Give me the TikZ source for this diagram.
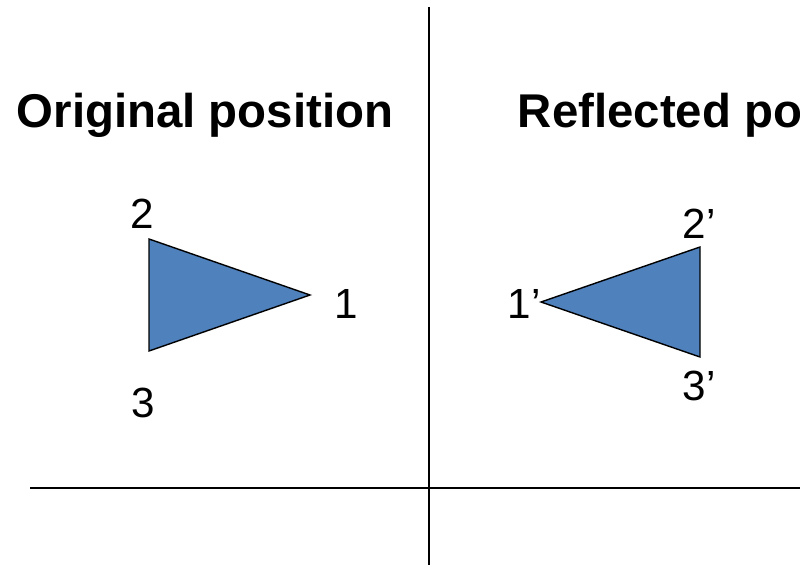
\documentclass[tikz,border=0pt]{standalone}
\usepackage{fontspec}
\setmainfont{Liberation Sans}

\definecolor{triblue}{HTML}{4F81BD}

\tikzset{
    title/.style={font=\bfseries\fontsize{33.7}{40}\selectfont, anchor=base},
    vlabel/.style={font=\fontsize{30}{36}\selectfont, anchor=base},
    axis/.style={line width=1.4pt},
    tri/.style={draw, fill=triblue, line width=1pt, line join=miter}
}

\begin{document}
\begin{tikzpicture}[x=0.025cm, y=-0.025cm]

    % Frame (pixel grid of the reference)
    \useasboundingbox (0,0) rectangle (800,564);
    \clip (0,0) rectangle (800,564);

    % Axes
    \coordinate (vtop) at (429,7);
    \coordinate (vbot) at (429,566);
    \coordinate (hleft) at (30,488);
    \coordinate (hright) at (802,488);
    \draw[axis] (vtop) -- (vbot);
    \draw[axis] (hleft) -- (hright);

    % Titles
    \node[title] (orig) at (205,128) {Original position};
    \node[title, anchor=base west] (refl) at (513,128) {Reflected position};

    % Original triangle
    \coordinate (p1) at (310,295);
    \coordinate (p2) at (149,239);
    \coordinate (p3) at (149,351);
    \draw[tri] (p1) -- (p2) -- (p3) -- cycle;

    \node[vlabel] (l1) at (346,318) {1};
    \node[vlabel] (l2) at (142,228) {2};
    \node[vlabel] (l3) at (143,417) {3};

    % Reflected triangle
    \coordinate (q1) at (541,302);
    \coordinate (q2) at (700,247);
    \coordinate (q3) at (700,357);
    \draw[tri] (q1) -- (q2) -- (q3) -- cycle;

    \node[vlabel] (m1) at (524,318) {1’};
    \node[vlabel] (m2) at (699,238) {2’};
    \node[vlabel] (m3) at (699,400) {3’};

\end{tikzpicture}
\end{document}
